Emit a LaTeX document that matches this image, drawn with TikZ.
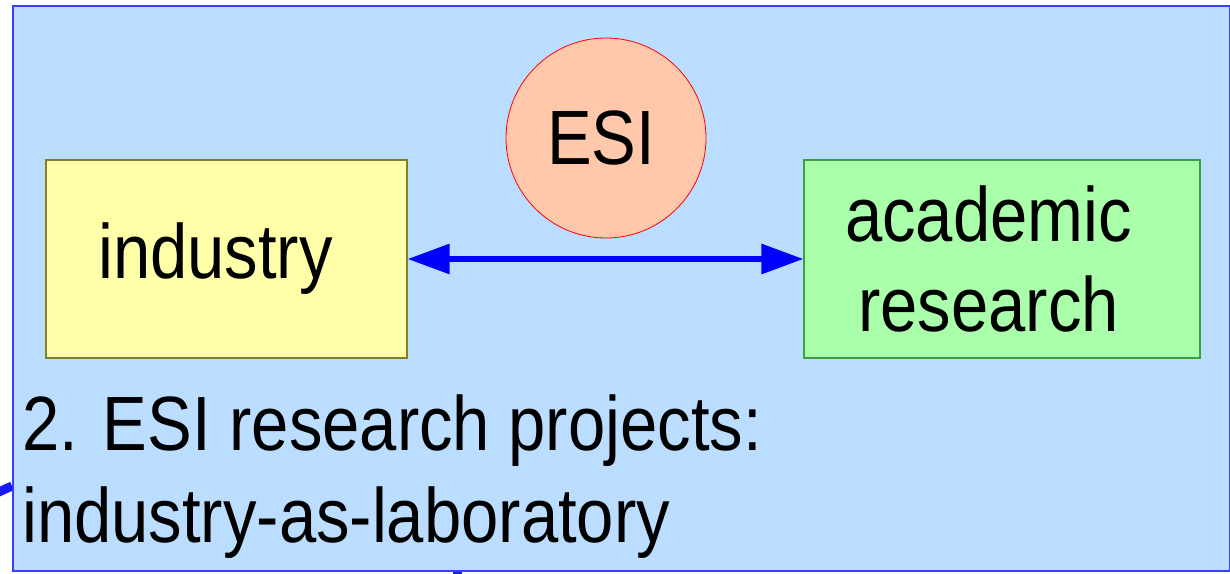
\documentclass[tikz,border=0pt]{standalone}
\usepackage{fontspec}
\usepackage{graphicx}
\setmainfont{Liberation Sans}
\usetikzlibrary{arrows.meta}
\definecolor{bgblue}{RGB}{187,221,255}
\definecolor{bgborder}{RGB}{60,60,255}
\definecolor{yfill}{RGB}{255,255,170}
\definecolor{yborder}{RGB}{128,128,40}
\definecolor{gfill}{RGB}{170,255,170}
\definecolor{gborder}{RGB}{60,160,60}
\definecolor{cfill}{RGB}{255,200,170}
\newcommand{\nt}[1]{\scalebox{0.87}[1]{#1}}
\tikzset{
  bigfont/.style={font=\fontsize{77}{90}\selectfont},
  boxnode/.style={draw, line width=1.2pt, minimum height=198pt, inner sep=0pt, bigfont, align=center},
  linkarrow/.style={draw=blue, line width=6pt, {Triangle[length=42pt,width=29pt]}-{Triangle[length=42pt,width=29pt]}},
  outerlink/.style={draw=blue!90, line width=9pt}
}
\begin{document}
\begin{tikzpicture}[x=1pt,y=-1pt]
\useasboundingbox (0,0) rectangle (1230,573);
% outer connectors (partly visible)
\coordinate (ol1) at (-30,505);
\coordinate (ol2) at (12,486);
\coordinate (ob1) at (457,569);
\coordinate (ob2) at (457,600);
\draw[outerlink] (ol1) -- (ol2);
\draw[outerlink] (ob1) -- (ob2);
% background panel
\node[draw=bgborder, fill=bgblue, line width=2pt, minimum width=1217pt, minimum height=565pt, inner sep=0pt, anchor=north west] (panel) at (11.5,5) {};
% boxes
\node[boxnode, fill=yfill, draw=yborder, minimum width=361pt] (industry) at (226.5,259) {\nt{industry}\hspace*{22pt}};
\node[boxnode, fill=gfill, draw=gborder, minimum width=396pt] (academic) at (1002,259) {\nt{academic}\hspace*{27pt}\\\nt{research}\hspace*{27pt}};
\node[circle, draw=red, fill=cfill, line width=0.8pt, minimum size=200pt, inner sep=0pt, bigfont] (esi) at (606,138) {\hspace*{-10pt}\nt{ESI}};
% arrow
\draw[linkarrow] (industry.east) -- (academic.west);
% caption
\node[bigfont, anchor=base west, inner sep=0pt] (cap1) at (22,450) {\nt{2. ESI research projects:}};
\node[bigfont, anchor=base west, inner sep=0pt] (cap2) at (22,542) {\nt{industry-as-laboratory}};
\end{tikzpicture}
\end{document}
